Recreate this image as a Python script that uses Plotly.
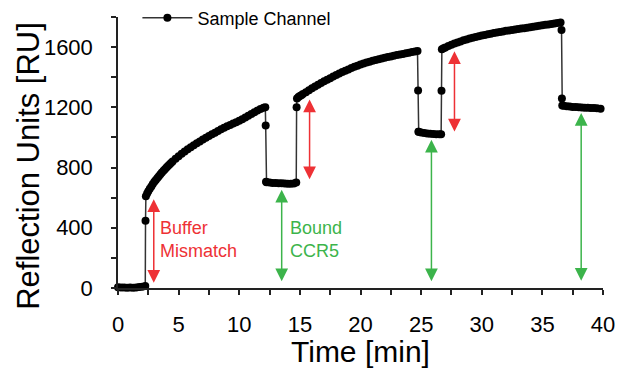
import plotly.graph_objects as go

# ---- data (time in min, response in RU) ----
t_base = [0.0, 0.25, 0.5, 0.75, 1.0, 1.25, 1.5, 1.75, 2.0, 2.25]
ru_base = [5, 3, 4, 2, 3, 2, 4, 6, 9, 14]

t_jump1 = [2.27, 2.30]
ru_jump1 = [447, 610]

t_assoc1 = [2.4, 2.5, 2.62, 2.75, 2.87, 3.0, 3.12, 3.25, 3.37, 3.5, 3.62, 3.75, 3.87,
            4.0, 4.12, 4.25, 4.37, 4.5, 4.75, 5.0, 5.25, 5.5,
            5.75, 6.0, 6.25, 6.5, 6.75, 7.0, 7.25, 7.5, 7.75, 8.0, 8.25, 8.5, 8.75,
            9.0, 9.25, 9.5, 9.75, 10.0, 10.25, 10.5, 10.75, 11.0, 11.25, 11.5, 11.75,
            12.0, 12.15]
ru_assoc1 = [627, 642, 659, 675, 690, 705, 718, 730, 743, 755, 767, 778, 789,
             800, 810, 820, 830, 840, 858, 875, 891, 906,
             921, 935, 948, 961, 973, 986, 998, 1010, 1021, 1032, 1043, 1054, 1064,
             1074, 1083, 1092, 1101, 1111, 1121, 1132, 1144, 1156, 1168, 1179, 1189,
             1197, 1200]

t_drop1 = [12.18, 12.21]
ru_drop1 = [1080, 705]

t_bound1 = [12.25, 12.5, 12.75, 13.0, 13.25, 13.5, 13.75, 14.0, 14.25, 14.5, 14.7]
ru_bound1 = [703, 700, 698, 697, 696, 695, 694, 693, 692, 694, 700]

t_jump2 = [14.73, 14.76]
ru_jump2 = [1200, 1259]

t_assoc2 = [14.88, 15.0, 15.12, 15.25, 15.5, 15.75, 16.0, 16.25, 16.5, 16.75, 17.0, 17.25, 17.5,
            17.75, 18.0, 18.25, 18.5, 18.75, 19.0, 19.25, 19.5, 19.75, 20.0, 20.25,
            20.5, 20.75, 21.0, 21.25, 21.5, 21.75, 22.0, 22.25, 22.5, 22.75, 23.0,
            23.25, 23.5, 23.75, 24.0, 24.25, 24.5, 24.7]
ru_assoc2 = [1268, 1275, 1281, 1288, 1301, 1314, 1327, 1339, 1350, 1361, 1373, 1384, 1394,
             1404, 1414, 1424, 1434, 1443, 1452, 1461, 1469, 1477, 1484, 1491,
             1497, 1503, 1509, 1514, 1519, 1524, 1529, 1534, 1538, 1543, 1547,
             1551, 1555, 1559, 1563, 1567, 1571, 1575]

t_drop2 = [24.75, 24.78]
ru_drop2 = [1312, 1038]

t_bound2 = [24.8, 25.0, 25.25, 25.5, 25.75, 26.0, 26.25, 26.5, 26.65]
ru_bound2 = [1038, 1033, 1030, 1027, 1025, 1023, 1022, 1021, 1022]

t_jump3 = [26.68, 26.71]
ru_jump3 = [1310, 1585]

t_assoc3 = [26.85, 27.0, 27.25, 27.5, 27.75, 28.0, 28.25, 28.5, 28.75, 29.0, 29.25, 29.5,
            29.75, 30.0, 30.25, 30.5, 30.75, 31.0, 31.25, 31.5, 31.75, 32.0, 32.25,
            32.5, 32.75, 33.0, 33.25, 33.5, 33.75, 34.0, 34.25, 34.5, 34.75, 35.0,
            35.25, 35.5, 35.75, 36.0, 36.25, 36.5]
ru_assoc3 = [1592, 1598, 1607, 1615, 1624, 1631, 1638, 1645, 1651, 1657, 1662, 1667,
             1672, 1677, 1681, 1685, 1689, 1693, 1697, 1701, 1704, 1708, 1711,
             1714, 1717, 1720, 1723, 1726, 1729, 1732, 1736, 1739, 1742, 1745,
             1748, 1751, 1754, 1757, 1760, 1763]

t_drop3 = [36.58, 36.61, 36.64]
ru_drop3 = [1713, 1259, 1212]

t_bound3 = [36.75, 37.0, 37.25, 37.5, 37.75, 38.0, 38.25, 38.5, 38.75, 39.0, 39.25,
            39.5, 39.8]
ru_bound3 = [1210, 1207, 1205, 1203, 1202, 1200, 1199, 1198, 1197, 1196, 1195,
             1194, 1191]

# double-headed arrows: x position, lower tip, upper tip
red_arrow_x = [2.95, 15.8, 27.75]
red_arrow_lo = [25, 712, 1030]
red_arrow_hi = [590, 1252, 1572]
green_arrow_x = [13.5, 25.85, 38.2]
green_arrow_lo = [35, 35, 38]
green_arrow_hi = [652, 985, 1162]

x_ticks = [0, 5, 10, 15, 20, 25, 30, 35, 40]
y_ticks = [0, 400, 800, 1200, 1600]

RED = "#ee3135"
GREEN = "#3cb44b"
FONT = "Liberation Sans, Arial, Helvetica, sans-serif"

time_min = (t_base + t_jump1 + t_assoc1 + t_drop1 + t_bound1 + t_jump2 + t_assoc2
            + t_drop2 + t_bound2 + t_jump3 + t_assoc3 + t_drop3 + t_bound3)
ru = (ru_base + ru_jump1 + ru_assoc1 + ru_drop1 + ru_bound1 + ru_jump2 + ru_assoc2
      + ru_drop2 + ru_bound2 + ru_jump3 + ru_assoc3 + ru_drop3 + ru_bound3)

fig = go.Figure()
fig.add_trace(go.Scatter(
    x=time_min, y=ru, mode="lines+markers", name="Sample Channel",
    line=dict(color="#333333", width=1.5),
    marker=dict(color="black", size=8),
    cliponaxis=False,
))

annotations = []
for xs, los, his, col in [(red_arrow_x, red_arrow_lo, red_arrow_hi, RED),
                          (green_arrow_x, green_arrow_lo, green_arrow_hi, GREEN)]:
    for xv, lo, hi in zip(xs, los, his):
        annotations.append(dict(
            x=xv, y=hi, ax=xv, ay=lo, xref="x", yref="y", axref="x", ayref="y",
            text="", showarrow=True, arrowhead=2, startarrowhead=2,
            arrowside="end+start", arrowsize=1.7, startarrowsize=1.7,
            arrowwidth=1.5, arrowcolor=col, standoff=0, startstandoff=0,
        ))

annotations.append(dict(x=3.3, y=325, xref="x", yref="y", xanchor="left",
                        yanchor="middle", align="left", showarrow=False,
                        text="Buffer<br>Mismatch",
                        font=dict(family=FONT, size=18, color=RED)))
annotations.append(dict(x=14.0, y=325, xref="x", yref="y", xanchor="left",
                        yanchor="middle", align="left", showarrow=False,
                        text="Bound<br>CCR5",
                        font=dict(family=FONT, size=18, color=GREEN)))
annotations.append(dict(x=-0.186, y=0.45, xref="paper", yref="paper",
                        textangle=-90, showarrow=False, xanchor="center",
                        yanchor="middle", text="Reflection Units [RU]",
                        font=dict(family=FONT, size=31, color="black")))
annotations.append(dict(x=0.501, y=-0.236, xref="paper", yref="paper",
                        showarrow=False, xanchor="center", yanchor="middle",
                        text="Time [min]",
                        font=dict(family=FONT, size=30, color="black")))

axis_common = dict(
    showgrid=False, zeroline=False, showline=True, linecolor="#222222",
    linewidth=1.5, ticks="outside", ticklen=5, tickwidth=1.5, tickcolor="#222222",
    tickfont=dict(family=FONT, size=22, color="black"),
)

fig.update_layout(
    width=618, height=370,
    margin=dict(l=118, r=15, t=17, b=82, autoexpand=False),
    paper_bgcolor="white", plot_bgcolor="white",
    showlegend=True,
    legend=dict(x=0.04, y=0.996, xanchor="left", yanchor="middle",
                itemwidth=50, bgcolor="rgba(0,0,0,0)",
                font=dict(family=FONT, size=18, color="black")),
    annotations=annotations,
    xaxis=dict(range=[0, 40], tickvals=x_ticks, ticklabelstandoff=11,
               minor=dict(dtick=2.5, ticks="outside", ticklen=5, tickwidth=1.5,
                          tickcolor="#222222"),
               **axis_common),
    yaxis=dict(range=[0, 1800], tickvals=y_ticks, ticklabelstandoff=14,
               minor=dict(dtick=200, ticks="outside", ticklen=5, tickwidth=1.5,
                          tickcolor="#222222"),
               **axis_common),
)

fig.write_html("out.html")
